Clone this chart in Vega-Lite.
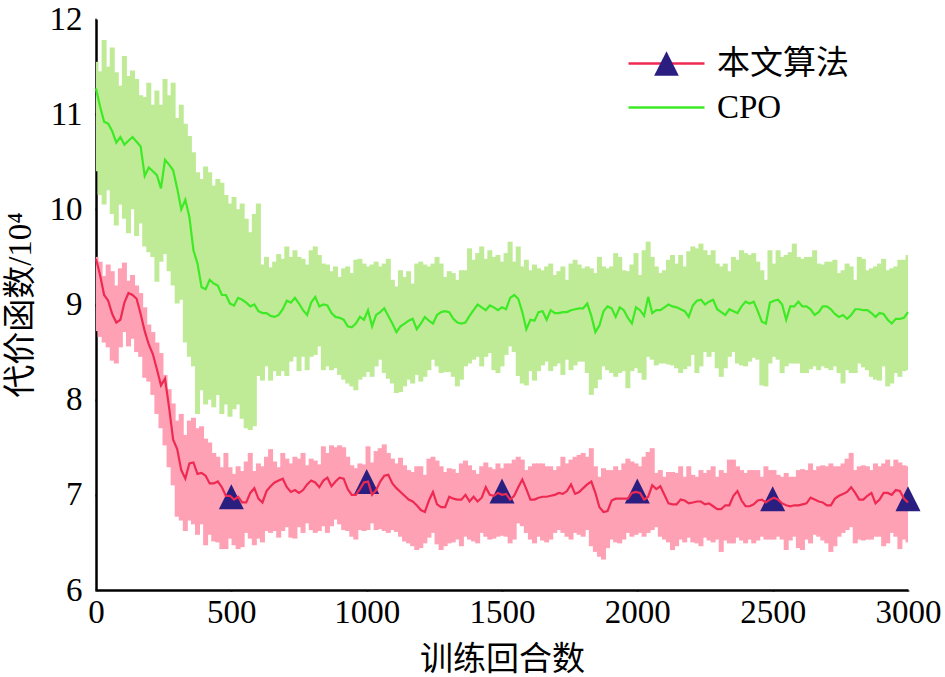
{
  "$schema": "https://vega.github.io/schema/vega-lite/v6.json",
  "width": 812,
  "height": 571,
  "autosize": {"type": "none"},
  "padding": {"left": 96, "top": 19, "right": 37, "bottom": 87},
  "background": "white",
  "config": {
    "view": {"stroke": null},
    "axis": {
      "domainColor": "black",
      "domainWidth": 2.5,
      "tickColor": "black",
      "tickWidth": 2,
      "tickSize": 1,
      "grid": false,
      "zindex": 1,
      "labelFlush": false,
      "labelFont": "Liberation Serif",
      "labelFontSize": 33,
      "labelColor": "black",
      "titleFont": "Liberation Serif, Noto Sans CJK SC",
      "titleFontSize": 33,
      "titleFontWeight": "normal",
      "titleColor": "black"
    }
  },
  "datasets": {
    "runs": [
      {"ep":0,"cLo":10.40,"cHi":11.55,"c":11.27,"oLo":8.72,"oHi":9.50,"o":9.48},
      {"ep":15,"cLo":10.15,"cHi":11.45,"c":11.08,"oLo":8.66,"oHi":9.45,"o":9.31},
      {"ep":30,"cLo":10.05,"cHi":11.78,"c":10.92,"oLo":8.60,"oHi":9.30,"o":9.10},
      {"ep":45,"cLo":10.20,"cHi":11.50,"c":10.90,"oLo":8.55,"oHi":9.42,"o":9.04},
      {"ep":60,"cLo":9.95,"cHi":11.70,"c":10.82,"oLo":8.41,"oHi":9.35,"o":8.90},
      {"ep":75,"cLo":9.83,"cHi":11.44,"c":10.70,"oLo":8.38,"oHi":9.20,"o":8.81},
      {"ep":90,"cLo":10.05,"cHi":11.30,"c":10.76,"oLo":8.55,"oHi":9.38,"o":8.84},
      {"ep":105,"cLo":9.90,"cHi":11.61,"c":10.68,"oLo":8.71,"oHi":9.44,"o":9.02},
      {"ep":120,"cLo":9.75,"cHi":11.40,"c":10.72,"oLo":8.56,"oHi":9.25,"o":9.12},
      {"ep":135,"cLo":10.00,"cHi":11.46,"c":10.76,"oLo":8.64,"oHi":9.31,"o":9.10},
      {"ep":150,"cLo":9.72,"cHi":11.37,"c":10.71,"oLo":8.50,"oHi":9.20,"o":9.06},
      {"ep":165,"cLo":9.85,"cHi":11.20,"c":10.66,"oLo":8.45,"oHi":9.12,"o":8.90},
      {"ep":180,"cLo":9.61,"cHi":11.18,"c":10.35,"oLo":8.23,"oHi":8.97,"o":8.72},
      {"ep":195,"cLo":9.55,"cHi":11.33,"c":10.44,"oLo":8.19,"oHi":8.79,"o":8.58},
      {"ep":210,"cLo":9.50,"cHi":11.10,"c":10.40,"oLo":8.05,"oHi":8.71,"o":8.48},
      {"ep":225,"cLo":9.24,"cHi":11.25,"c":10.36,"oLo":7.85,"oHi":8.60,"o":8.32},
      {"ep":240,"cLo":9.45,"cHi":11.10,"c":10.22,"oLo":7.70,"oHi":8.49,"o":8.15},
      {"ep":255,"cLo":9.53,"cHi":11.37,"c":10.52,"oLo":7.52,"oHi":8.26,"o":8.22},
      {"ep":270,"cLo":9.35,"cHi":11.20,"c":10.47,"oLo":7.29,"oHi":8.11,"o":7.92},
      {"ep":285,"cLo":9.20,"cHi":11.33,"c":10.41,"oLo":7.10,"oHi":7.96,"o":7.58},
      {"ep":300,"cLo":9.01,"cHi":10.96,"c":10.22,"oLo":6.77,"oHi":7.78,"o":7.48},
      {"ep":315,"cLo":9.05,"cHi":11.10,"c":10.00,"oLo":6.73,"oHi":7.85,"o":7.26},
      {"ep":330,"cLo":8.60,"cHi":10.90,"c":10.10,"oLo":6.62,"oHi":7.63,"o":7.17},
      {"ep":345,"cLo":8.45,"cHi":10.77,"c":9.92,"oLo":6.73,"oHi":7.78,"o":7.33},
      {"ep":360,"cLo":8.35,"cHi":10.60,"c":9.57,"oLo":6.69,"oHi":7.81,"o":7.34},
      {"ep":375,"cLo":7.85,"cHi":10.39,"c":9.43,"oLo":6.58,"oHi":7.70,"o":7.22},
      {"ep":390,"cLo":8.10,"cHi":10.32,"c":9.18,"oLo":6.69,"oHi":7.72,"o":7.23},
      {"ep":405,"cLo":7.95,"cHi":10.45,"c":9.16,"oLo":6.47,"oHi":7.59,"o":7.20},
      {"ep":420,"cLo":8.00,"cHi":10.39,"c":9.26,"oLo":6.58,"oHi":7.55,"o":7.12},
      {"ep":435,"cLo":7.92,"cHi":10.25,"c":9.22,"oLo":6.51,"oHi":7.44,"o":7.12},
      {"ep":450,"cLo":8.05,"cHi":10.32,"c":9.20,"oLo":6.50,"oHi":7.40,"o":7.14},
      {"ep":465,"cLo":7.85,"cHi":10.28,"c":9.10,"oLo":6.43,"oHi":7.29,"o":7.08},
      {"ep":480,"cLo":7.95,"cHi":10.15,"c":9.10,"oLo":6.43,"oHi":7.44,"o":6.99},
      {"ep":495,"cLo":7.82,"cHi":10.06,"c":9.01,"oLo":6.54,"oHi":7.29,"o":6.99},
      {"ep":510,"cLo":7.90,"cHi":10.13,"c":8.99,"oLo":6.47,"oHi":7.22,"o":6.95},
      {"ep":525,"cLo":7.95,"cHi":10.00,"c":9.07,"oLo":6.43,"oHi":7.30,"o":6.98},
      {"ep":540,"cLo":7.80,"cHi":10.06,"c":9.05,"oLo":6.45,"oHi":7.25,"o":6.92},
      {"ep":555,"cLo":7.70,"cHi":9.90,"c":9.02,"oLo":6.60,"oHi":7.35,"o":6.92},
      {"ep":570,"cLo":7.68,"cHi":9.76,"c":8.98,"oLo":6.54,"oHi":7.44,"o":7.02},
      {"ep":585,"cLo":7.72,"cHi":9.95,"c":9.00,"oLo":6.47,"oHi":7.25,"o":7.07},
      {"ep":600,"cLo":8.25,"cHi":10.06,"c":8.93,"oLo":6.54,"oHi":7.33,"o":6.96},
      {"ep":615,"cLo":8.20,"cHi":9.42,"c":8.91,"oLo":6.50,"oHi":7.30,"o":6.92},
      {"ep":630,"cLo":8.35,"cHi":9.50,"c":8.91,"oLo":6.62,"oHi":7.40,"o":7.04},
      {"ep":645,"cLo":8.20,"cHi":9.39,"c":8.88,"oLo":6.60,"oHi":7.48,"o":7.09},
      {"ep":660,"cLo":8.30,"cHi":9.45,"c":8.87,"oLo":6.62,"oHi":7.35,"o":7.13},
      {"ep":675,"cLo":8.25,"cHi":9.53,"c":8.89,"oLo":6.55,"oHi":7.29,"o":7.15},
      {"ep":690,"cLo":8.30,"cHi":9.48,"c":8.95,"oLo":6.62,"oHi":7.44,"o":7.17},
      {"ep":705,"cLo":8.25,"cHi":9.61,"c":9.04,"oLo":6.66,"oHi":7.38,"o":7.08},
      {"ep":720,"cLo":8.40,"cHi":9.50,"c":9.02,"oLo":6.55,"oHi":7.33,"o":7.03},
      {"ep":735,"cLo":8.45,"cHi":9.57,"c":9.07,"oLo":6.54,"oHi":7.40,"o":7.05},
      {"ep":750,"cLo":8.30,"cHi":9.50,"c":9.01,"oLo":6.66,"oHi":7.38,"o":7.02},
      {"ep":765,"cLo":8.45,"cHi":9.48,"c":8.94,"oLo":6.60,"oHi":7.44,"o":7.05},
      {"ep":780,"cLo":8.31,"cHi":9.42,"c":8.89,"oLo":6.70,"oHi":7.31,"o":7.11},
      {"ep":795,"cLo":8.45,"cHi":9.57,"c":9.02,"oLo":6.63,"oHi":7.38,"o":7.15},
      {"ep":810,"cLo":8.47,"cHi":9.61,"c":9.08,"oLo":6.60,"oHi":7.36,"o":7.13},
      {"ep":825,"cLo":8.56,"cHi":9.52,"c":8.98,"oLo":6.62,"oHi":7.32,"o":7.08},
      {"ep":840,"cLo":8.31,"cHi":9.43,"c":9.00,"oLo":6.67,"oHi":7.51,"o":7.15},
      {"ep":855,"cLo":8.35,"cHi":9.42,"c":8.99,"oLo":6.60,"oHi":7.44,"o":7.18},
      {"ep":870,"cLo":8.31,"cHi":9.35,"c":8.91,"oLo":6.67,"oHi":7.52,"o":7.09},
      {"ep":885,"cLo":8.33,"cHi":9.40,"c":8.87,"oLo":6.74,"oHi":7.50,"o":7.14},
      {"ep":900,"cLo":8.26,"cHi":9.29,"c":8.86,"oLo":6.69,"oHi":7.52,"o":7.18},
      {"ep":915,"cLo":8.21,"cHi":9.38,"c":8.84,"oLo":6.63,"oHi":7.50,"o":7.17},
      {"ep":930,"cLo":8.17,"cHi":9.40,"c":8.77,"oLo":6.62,"oHi":7.40,"o":7.06},
      {"ep":945,"cLo":8.14,"cHi":9.33,"c":8.76,"oLo":6.56,"oHi":7.31,"o":7.00},
      {"ep":960,"cLo":8.10,"cHi":9.47,"c":8.80,"oLo":6.53,"oHi":7.28,"o":7.00},
      {"ep":975,"cLo":8.21,"cHi":9.48,"c":8.87,"oLo":6.63,"oHi":7.33,"o":7.06},
      {"ep":990,"cLo":8.24,"cHi":9.43,"c":8.84,"oLo":6.62,"oHi":7.32,"o":7.13},
      {"ep":1005,"cLo":8.29,"cHi":9.40,"c":8.94,"oLo":6.63,"oHi":7.51,"o":7.14},
      {"ep":1020,"cLo":8.24,"cHi":9.42,"c":8.77,"oLo":6.70,"oHi":7.34,"o":7.00},
      {"ep":1035,"cLo":8.35,"cHi":9.45,"c":8.89,"oLo":6.63,"oHi":7.46,"o":7.05},
      {"ep":1050,"cLo":8.42,"cHi":9.40,"c":8.92,"oLo":6.64,"oHi":7.49,"o":7.14},
      {"ep":1065,"cLo":8.28,"cHi":9.43,"c":8.96,"oLo":6.62,"oHi":7.53,"o":7.20},
      {"ep":1080,"cLo":8.22,"cHi":9.48,"c":8.88,"oLo":6.60,"oHi":7.44,"o":7.21},
      {"ep":1095,"cLo":8.17,"cHi":9.26,"c":8.80,"oLo":6.63,"oHi":7.38,"o":7.12},
      {"ep":1110,"cLo":8.07,"cHi":9.19,"c":8.71,"oLo":6.61,"oHi":7.33,"o":7.07},
      {"ep":1125,"cLo":8.08,"cHi":9.36,"c":8.77,"oLo":6.56,"oHi":7.39,"o":7.03},
      {"ep":1140,"cLo":8.14,"cHi":9.29,"c":8.80,"oLo":6.51,"oHi":7.31,"o":6.99},
      {"ep":1155,"cLo":8.21,"cHi":9.35,"c":8.83,"oLo":6.49,"oHi":7.26,"o":6.95},
      {"ep":1170,"cLo":8.17,"cHi":9.22,"c":8.85,"oLo":6.46,"oHi":7.24,"o":6.93},
      {"ep":1185,"cLo":8.26,"cHi":9.43,"c":8.74,"oLo":6.42,"oHi":7.30,"o":6.89},
      {"ep":1200,"cLo":8.19,"cHi":9.45,"c":8.80,"oLo":6.44,"oHi":7.30,"o":6.84},
      {"ep":1215,"cLo":8.24,"cHi":9.42,"c":8.87,"oLo":6.49,"oHi":7.21,"o":6.82},
      {"ep":1230,"cLo":8.31,"cHi":9.40,"c":8.83,"oLo":6.55,"oHi":7.38,"o":6.94},
      {"ep":1245,"cLo":8.42,"cHi":9.43,"c":8.80,"oLo":6.60,"oHi":7.40,"o":7.03},
      {"ep":1260,"cLo":8.35,"cHi":9.50,"c":8.89,"oLo":6.48,"oHi":7.36,"o":6.90},
      {"ep":1275,"cLo":8.28,"cHi":9.43,"c":8.92,"oLo":6.42,"oHi":7.30,"o":6.87},
      {"ep":1290,"cLo":8.29,"cHi":9.29,"c":8.93,"oLo":6.46,"oHi":7.24,"o":6.87},
      {"ep":1305,"cLo":8.29,"cHi":9.35,"c":8.92,"oLo":6.49,"oHi":7.28,"o":6.98},
      {"ep":1320,"cLo":8.24,"cHi":9.33,"c":8.85,"oLo":6.50,"oHi":7.27,"o":6.96},
      {"ep":1335,"cLo":8.14,"cHi":9.26,"c":8.81,"oLo":6.53,"oHi":7.23,"o":6.95},
      {"ep":1350,"cLo":8.21,"cHi":9.36,"c":8.80,"oLo":6.46,"oHi":7.33,"o":6.95},
      {"ep":1365,"cLo":8.35,"cHi":9.36,"c":8.81,"oLo":6.56,"oHi":7.36,"o":7.00},
      {"ep":1380,"cLo":8.38,"cHi":9.59,"c":8.88,"oLo":6.53,"oHi":7.31,"o":6.93},
      {"ep":1395,"cLo":8.42,"cHi":9.47,"c":8.94,"oLo":6.51,"oHi":7.26,"o":6.98},
      {"ep":1410,"cLo":8.45,"cHi":9.54,"c":9.00,"oLo":6.49,"oHi":7.22,"o":6.93},
      {"ep":1425,"cLo":8.35,"cHi":9.61,"c":8.97,"oLo":6.60,"oHi":7.30,"o":6.97},
      {"ep":1440,"cLo":8.45,"cHi":9.48,"c":8.94,"oLo":6.56,"oHi":7.34,"o":7.08},
      {"ep":1455,"cLo":8.49,"cHi":9.57,"c":8.99,"oLo":6.53,"oHi":7.29,"o":7.00},
      {"ep":1470,"cLo":8.31,"cHi":9.50,"c":8.97,"oLo":6.54,"oHi":7.27,"o":6.99},
      {"ep":1485,"cLo":8.28,"cHi":9.52,"c":8.94,"oLo":6.56,"oHi":7.33,"o":7.02},
      {"ep":1500,"cLo":8.35,"cHi":9.45,"c":8.97,"oLo":6.57,"oHi":7.28,"o":7.00},
      {"ep":1515,"cLo":8.47,"cHi":9.54,"c":8.95,"oLo":6.56,"oHi":7.33,"o":7.01},
      {"ep":1530,"cLo":8.56,"cHi":9.66,"c":9.07,"oLo":6.49,"oHi":7.33,"o":6.95},
      {"ep":1545,"cLo":8.50,"cHi":9.45,"c":9.10,"oLo":6.53,"oHi":7.37,"o":6.99},
      {"ep":1560,"cLo":8.25,"cHi":9.61,"c":9.06,"oLo":6.70,"oHi":7.40,"o":7.08},
      {"ep":1575,"cLo":8.17,"cHi":9.40,"c":8.92,"oLo":6.67,"oHi":7.37,"o":7.16},
      {"ep":1590,"cLo":8.15,"cHi":9.47,"c":8.74,"oLo":6.60,"oHi":7.26,"o":7.06},
      {"ep":1605,"cLo":8.30,"cHi":9.36,"c":8.84,"oLo":6.53,"oHi":7.30,"o":6.95},
      {"ep":1620,"cLo":8.20,"cHi":9.42,"c":8.83,"oLo":6.49,"oHi":7.33,"o":6.95},
      {"ep":1635,"cLo":8.30,"cHi":9.38,"c":8.92,"oLo":6.56,"oHi":7.33,"o":6.97},
      {"ep":1650,"cLo":8.36,"cHi":9.36,"c":8.93,"oLo":6.52,"oHi":7.33,"o":6.98},
      {"ep":1665,"cLo":8.40,"cHi":9.40,"c":8.84,"oLo":6.50,"oHi":7.30,"o":6.98},
      {"ep":1680,"cLo":8.30,"cHi":9.43,"c":8.94,"oLo":6.53,"oHi":7.30,"o":6.99},
      {"ep":1695,"cLo":8.35,"cHi":9.31,"c":8.91,"oLo":6.60,"oHi":7.26,"o":7.00},
      {"ep":1710,"cLo":8.38,"cHi":9.35,"c":8.91,"oLo":6.63,"oHi":7.30,"o":7.02},
      {"ep":1725,"cLo":8.26,"cHi":9.40,"c":8.92,"oLo":6.60,"oHi":7.40,"o":7.01},
      {"ep":1740,"cLo":8.42,"cHi":9.26,"c":8.92,"oLo":6.56,"oHi":7.33,"o":7.04},
      {"ep":1755,"cLo":8.31,"cHi":9.43,"c":8.94,"oLo":6.53,"oHi":7.37,"o":7.11},
      {"ep":1770,"cLo":8.36,"cHi":9.47,"c":8.95,"oLo":6.60,"oHi":7.40,"o":7.01},
      {"ep":1785,"cLo":8.40,"cHi":9.42,"c":8.96,"oLo":6.58,"oHi":7.42,"o":7.03},
      {"ep":1800,"cLo":8.40,"cHi":9.38,"c":8.96,"oLo":6.56,"oHi":7.44,"o":7.07},
      {"ep":1815,"cLo":8.28,"cHi":9.40,"c":9.01,"oLo":6.63,"oHi":7.40,"o":7.11},
      {"ep":1830,"cLo":8.05,"cHi":9.38,"c":8.88,"oLo":6.46,"oHi":7.49,"o":7.14},
      {"ep":1845,"cLo":8.12,"cHi":9.33,"c":8.71,"oLo":6.40,"oHi":7.30,"o":7.02},
      {"ep":1860,"cLo":8.21,"cHi":9.50,"c":8.78,"oLo":6.35,"oHi":7.19,"o":6.87},
      {"ep":1875,"cLo":8.35,"cHi":9.40,"c":8.93,"oLo":6.32,"oHi":7.28,"o":6.82},
      {"ep":1890,"cLo":8.31,"cHi":9.38,"c":8.98,"oLo":6.44,"oHi":7.26,"o":6.83},
      {"ep":1905,"cLo":8.28,"cHi":9.40,"c":8.96,"oLo":6.53,"oHi":7.26,"o":6.94},
      {"ep":1920,"cLo":8.24,"cHi":9.54,"c":8.87,"oLo":6.50,"oHi":7.30,"o":6.96},
      {"ep":1935,"cLo":8.28,"cHi":9.50,"c":8.97,"oLo":6.49,"oHi":7.26,"o":6.96},
      {"ep":1950,"cLo":8.30,"cHi":9.36,"c":8.94,"oLo":6.53,"oHi":7.33,"o":6.96},
      {"ep":1965,"cLo":8.12,"cHi":9.35,"c":8.86,"oLo":6.60,"oHi":7.38,"o":6.96},
      {"ep":1980,"cLo":8.30,"cHi":9.42,"c":8.80,"oLo":6.56,"oHi":7.35,"o":7.02},
      {"ep":1995,"cLo":8.33,"cHi":9.54,"c":8.97,"oLo":6.58,"oHi":7.33,"o":7.03},
      {"ep":2010,"cLo":8.28,"cHi":9.31,"c":8.94,"oLo":6.60,"oHi":7.30,"o":7.02},
      {"ep":2025,"cLo":8.21,"cHi":9.57,"c":8.88,"oLo":6.56,"oHi":7.40,"o":6.95},
      {"ep":2040,"cLo":8.45,"cHi":9.66,"c":9.08,"oLo":6.60,"oHi":7.45,"o":6.98},
      {"ep":2055,"cLo":8.42,"cHi":9.50,"c":8.91,"oLo":6.63,"oHi":7.49,"o":7.10},
      {"ep":2070,"cLo":8.36,"cHi":9.40,"c":8.94,"oLo":6.66,"oHi":7.23,"o":7.06},
      {"ep":2085,"cLo":8.38,"cHi":9.33,"c":8.94,"oLo":6.56,"oHi":7.26,"o":7.09},
      {"ep":2100,"cLo":8.38,"cHi":9.36,"c":8.97,"oLo":6.53,"oHi":7.19,"o":7.00},
      {"ep":2115,"cLo":8.37,"cHi":9.47,"c":9.00,"oLo":6.50,"oHi":7.24,"o":6.91},
      {"ep":2130,"cLo":8.36,"cHi":9.52,"c":8.98,"oLo":6.42,"oHi":7.24,"o":6.90},
      {"ep":2145,"cLo":8.33,"cHi":9.43,"c":8.97,"oLo":6.46,"oHi":7.23,"o":6.90},
      {"ep":2160,"cLo":8.28,"cHi":9.52,"c":8.95,"oLo":6.53,"oHi":7.30,"o":6.95},
      {"ep":2175,"cLo":8.32,"cHi":9.40,"c":8.93,"oLo":6.50,"oHi":7.19,"o":6.94},
      {"ep":2190,"cLo":8.35,"cHi":9.56,"c":8.87,"oLo":6.55,"oHi":7.30,"o":6.91},
      {"ep":2205,"cLo":8.47,"cHi":9.61,"c":8.99,"oLo":6.50,"oHi":7.21,"o":6.92},
      {"ep":2220,"cLo":8.28,"cHi":9.59,"c":9.04,"oLo":6.49,"oHi":7.19,"o":6.93},
      {"ep":2235,"cLo":8.35,"cHi":9.64,"c":9.05,"oLo":6.46,"oHi":7.26,"o":6.93},
      {"ep":2250,"cLo":8.50,"cHi":9.57,"c":9.00,"oLo":6.55,"oHi":7.23,"o":6.90},
      {"ep":2265,"cLo":8.45,"cHi":9.52,"c":9.03,"oLo":6.52,"oHi":7.26,"o":6.91},
      {"ep":2280,"cLo":8.50,"cHi":9.57,"c":9.05,"oLo":6.50,"oHi":7.30,"o":6.88},
      {"ep":2295,"cLo":8.33,"cHi":9.43,"c":8.95,"oLo":6.53,"oHi":7.19,"o":6.85},
      {"ep":2310,"cLo":8.24,"cHi":9.40,"c":8.92,"oLo":6.40,"oHi":7.26,"o":6.85},
      {"ep":2325,"cLo":8.33,"cHi":9.43,"c":8.89,"oLo":6.52,"oHi":7.23,"o":6.89},
      {"ep":2340,"cLo":8.45,"cHi":9.35,"c":8.95,"oLo":6.49,"oHi":7.37,"o":6.89},
      {"ep":2355,"cLo":8.50,"cHi":9.50,"c":8.93,"oLo":6.49,"oHi":7.37,"o":6.99},
      {"ep":2370,"cLo":8.38,"cHi":9.47,"c":8.91,"oLo":6.55,"oHi":7.30,"o":7.04},
      {"ep":2385,"cLo":8.36,"cHi":9.57,"c":8.98,"oLo":6.52,"oHi":7.26,"o":6.94},
      {"ep":2400,"cLo":8.35,"cHi":9.54,"c":9.03,"oLo":6.49,"oHi":7.23,"o":6.88},
      {"ep":2415,"cLo":8.40,"cHi":9.52,"c":9.01,"oLo":6.53,"oHi":7.26,"o":6.88},
      {"ep":2430,"cLo":8.44,"cHi":9.54,"c":9.03,"oLo":6.49,"oHi":7.26,"o":6.90},
      {"ep":2445,"cLo":8.42,"cHi":9.45,"c":8.93,"oLo":6.52,"oHi":7.26,"o":6.94},
      {"ep":2460,"cLo":8.15,"cHi":9.36,"c":8.82,"oLo":6.56,"oHi":7.19,"o":6.95},
      {"ep":2475,"cLo":8.14,"cHi":9.26,"c":8.80,"oLo":6.53,"oHi":7.30,"o":6.92},
      {"ep":2490,"cLo":8.38,"cHi":9.57,"c":9.02,"oLo":6.53,"oHi":7.26,"o":6.95},
      {"ep":2505,"cLo":8.45,"cHi":9.43,"c":9.04,"oLo":6.53,"oHi":7.26,"o":6.97},
      {"ep":2520,"cLo":8.42,"cHi":9.57,"c":9.05,"oLo":6.56,"oHi":7.21,"o":6.95},
      {"ep":2535,"cLo":8.28,"cHi":9.50,"c":9.00,"oLo":6.53,"oHi":7.19,"o":6.91},
      {"ep":2550,"cLo":8.35,"cHi":9.52,"c":8.84,"oLo":6.42,"oHi":7.23,"o":6.89},
      {"ep":2565,"cLo":8.38,"cHi":9.55,"c":8.98,"oLo":6.52,"oHi":7.19,"o":6.88},
      {"ep":2580,"cLo":8.38,"cHi":9.64,"c":8.98,"oLo":6.56,"oHi":7.19,"o":6.89},
      {"ep":2595,"cLo":8.38,"cHi":9.50,"c":9.03,"oLo":6.44,"oHi":7.26,"o":6.89},
      {"ep":2610,"cLo":8.28,"cHi":9.48,"c":8.98,"oLo":6.42,"oHi":7.27,"o":6.90},
      {"ep":2625,"cLo":8.28,"cHi":9.50,"c":8.98,"oLo":6.53,"oHi":7.26,"o":6.91},
      {"ep":2640,"cLo":8.32,"cHi":9.50,"c":8.95,"oLo":6.49,"oHi":7.33,"o":6.97},
      {"ep":2655,"cLo":8.35,"cHi":9.57,"c":8.89,"oLo":6.58,"oHi":7.26,"o":6.95},
      {"ep":2670,"cLo":8.31,"cHi":9.43,"c":8.92,"oLo":6.56,"oHi":7.30,"o":6.93},
      {"ep":2685,"cLo":8.35,"cHi":9.42,"c":8.98,"oLo":6.52,"oHi":7.31,"o":6.92},
      {"ep":2700,"cLo":8.33,"cHi":9.45,"c":8.98,"oLo":6.49,"oHi":7.30,"o":6.89},
      {"ep":2715,"cLo":8.31,"cHi":9.45,"c":8.95,"oLo":6.40,"oHi":7.33,"o":6.89},
      {"ep":2730,"cLo":8.35,"cHi":9.47,"c":8.90,"oLo":6.46,"oHi":7.30,"o":6.96},
      {"ep":2745,"cLo":8.28,"cHi":9.33,"c":8.87,"oLo":6.56,"oHi":7.30,"o":6.99},
      {"ep":2760,"cLo":8.17,"cHi":9.36,"c":8.89,"oLo":6.60,"oHi":7.33,"o":7.01},
      {"ep":2775,"cLo":8.31,"cHi":9.43,"c":8.85,"oLo":6.63,"oHi":7.38,"o":7.03},
      {"ep":2790,"cLo":8.28,"cHi":9.40,"c":8.89,"oLo":6.66,"oHi":7.44,"o":7.08},
      {"ep":2805,"cLo":8.28,"cHi":9.26,"c":8.95,"oLo":6.49,"oHi":7.26,"o":7.02},
      {"ep":2820,"cLo":8.38,"cHi":9.50,"c":8.95,"oLo":6.53,"oHi":7.30,"o":6.95},
      {"ep":2835,"cLo":8.34,"cHi":9.48,"c":8.94,"oLo":6.52,"oHi":7.31,"o":6.95},
      {"ep":2850,"cLo":8.31,"cHi":9.36,"c":8.94,"oLo":6.53,"oHi":7.30,"o":6.99},
      {"ep":2865,"cLo":8.24,"cHi":9.38,"c":8.91,"oLo":6.53,"oHi":7.26,"o":7.02},
      {"ep":2880,"cLo":8.21,"cHi":9.40,"c":8.87,"oLo":6.56,"oHi":7.33,"o":6.91},
      {"ep":2895,"cLo":8.20,"cHi":9.43,"c":8.91,"oLo":6.56,"oHi":7.30,"o":6.95},
      {"ep":2910,"cLo":8.35,"cHi":9.48,"c":8.90,"oLo":6.46,"oHi":7.33,"o":7.02},
      {"ep":2925,"cLo":8.14,"cHi":9.36,"c":8.84,"oLo":6.49,"oHi":7.37,"o":7.02},
      {"ep":2940,"cLo":8.17,"cHi":9.38,"c":8.80,"oLo":6.60,"oHi":7.30,"o":7.00},
      {"ep":2955,"cLo":8.28,"cHi":9.40,"c":8.85,"oLo":6.56,"oHi":7.37,"o":7.05},
      {"ep":2970,"cLo":8.24,"cHi":9.47,"c":8.85,"oLo":6.43,"oHi":7.34,"o":7.04},
      {"ep":2985,"cLo":8.30,"cHi":9.47,"c":8.86,"oLo":6.53,"oHi":7.31,"o":6.96},
      {"ep":3000,"cLo":8.31,"cHi":9.52,"c":8.92,"oLo":6.50,"oHi":7.30,"o":6.92}
    ],
    "markers": [
      {"ep":500,"o":6.98},
      {"ep":1000,"o":7.14},
      {"ep":1500,"o":7.04},
      {"ep":2000,"o":7.04},
      {"ep":2500,"o":6.96},
      {"ep":3000,"o":6.96}
    ]
  },
  "data": {"name": "runs"},
  "layer": [
    {
      "mark": {"type": "rule", "color": "#bfeb97", "strokeWidth": 5, "clip": true},
      "encoding": {
        "x": {
          "field": "ep", "type": "quantitative",
          "scale": {"domain": [0, 3000], "nice": false},
          "axis": {
            "title": "训练回合数", "values": [0, 500, 1000, 1500, 2000, 2500, 3000], "format": "d",
            "labelPadding": 5, "titleY": 69, "titleBaseline": "middle",
            "encode": {"ticks": {"update": {"y2": {"value": -13}}}}
          }
        },
        "y": {
          "field": "cLo", "type": "quantitative",
          "scale": {"domain": [6, 12], "nice": false, "zero": false},
          "axis": {
            "title": "代价函数/10⁴", "values": [6, 7, 8, 9, 10, 11, 12], "format": "d",
            "labelPadding": 13, "titleX": -76, "titleY": 285.5, "titleBaseline": "middle",
            "encode": {"ticks": {"update": {"x2": {"value": 13}}}}
          }
        },
        "y2": {"field": "cHi"}
      }
    },
    {
      "mark": {"type": "line", "strokeWidth": 2.2},
      "encoding": {
        "x": {"field": "ep", "type": "quantitative"},
        "y": {"field": "c", "type": "quantitative", "title": "代价函数/10⁴"},
        "stroke": {
          "datum": "CPO", "type": "nominal",
          "scale": {"domain": ["本文算法", "CPO"], "range": ["#ef2a52", "#3dea25"]},
          "legend": {
            "title": null, "orient": "none", "legendX": 554, "legendY": 28, "padding": 0,
            "symbolType": "M-4,0H4", "symbolSize": 361, "symbolStrokeWidth": 2.5,
            "labelFont": "Liberation Serif, Noto Sans CJK SC", "labelFontSize": 33, "labelColor": "black",
            "labelOffset": 34, "rowPadding": 10
          }
        }
      }
    },
    {
      "mark": {"type": "rule", "color": "#ffa1b5", "strokeWidth": 5, "clip": true},
      "encoding": {
        "x": {"field": "ep", "type": "quantitative"},
        "y": {"field": "oLo", "type": "quantitative", "title": "代价函数/10⁴"},
        "y2": {"field": "oHi"}
      }
    },
    {
      "data": {"name": "markers"},
      "mark": {"type": "point", "filled": true, "shape": "M0,-1L1,1L-1,1Z", "size": 625, "opacity": 1},
      "encoding": {
        "x": {"field": "ep", "type": "quantitative"},
        "y": {"field": "o", "type": "quantitative", "title": "代价函数/10⁴"},
        "fill": {
          "datum": "本文算法", "type": "nominal",
          "scale": {"range": ["#2a1f80"]},
          "legend": {
            "title": null, "orient": "none", "legendX": 554, "legendY": 28, "padding": 0,
            "symbolType": "M0,-1.3L1.3,1.3L-1.3,1.3Z", "symbolSize": 361, "symbolStrokeWidth": 0,
            "labelFont": "Liberation Serif, Noto Sans CJK SC", "labelFontSize": 33,
            "labelOffset": 34, "labelOpacity": 0
          }
        }
      }
    },
    {
      "mark": {"type": "line", "strokeWidth": 2.2},
      "encoding": {
        "x": {"field": "ep", "type": "quantitative"},
        "y": {"field": "o", "type": "quantitative", "title": "代价函数/10⁴"},
        "stroke": {"datum": "本文算法", "type": "nominal"}
      }
    }
  ]
}
